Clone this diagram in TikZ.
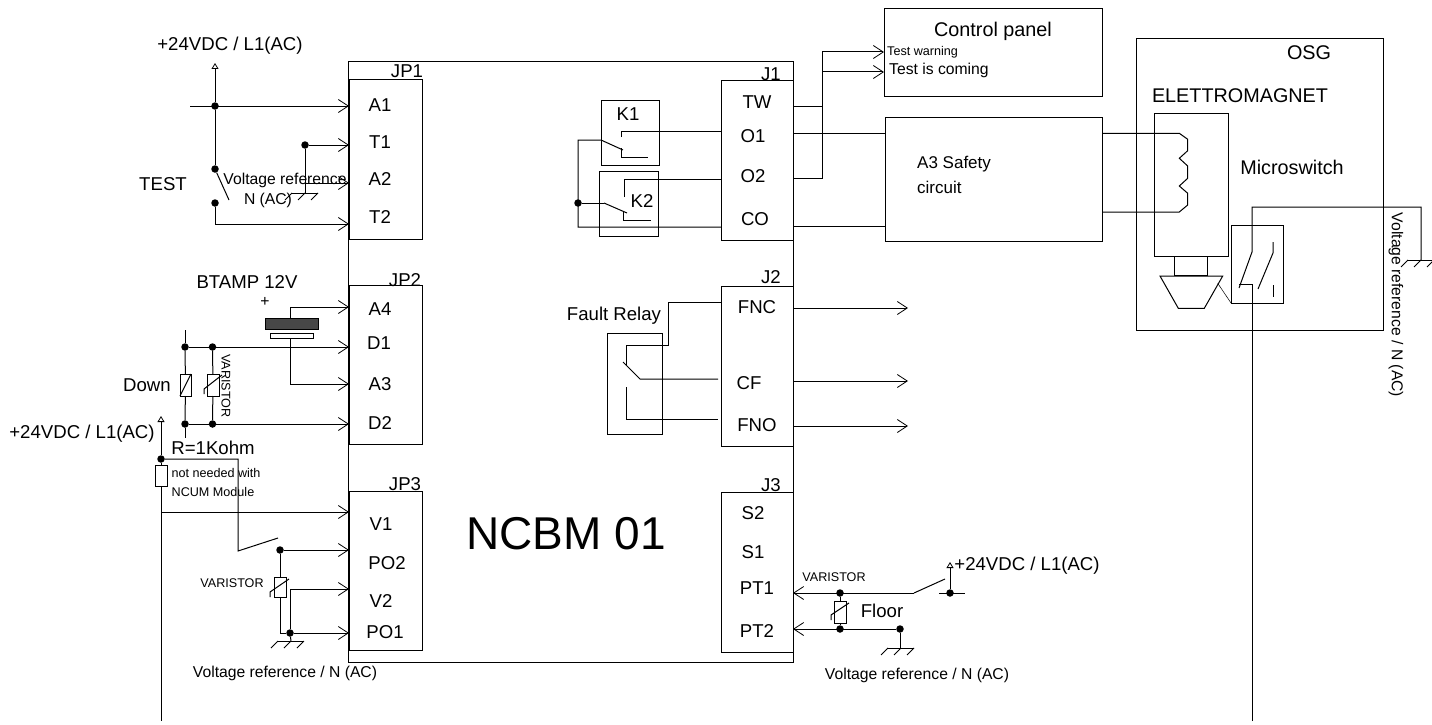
\documentclass[tikz,border=0pt]{standalone}
\usepackage{fontspec}
\setmainfont{Liberation Sans}
\usetikzlibrary{arrows.meta}
\tikzset{
  wire/.style={line width=1pt},
  feed/.style={wire,-{Straight Barb[length=10pt,width=13pt,line width=0.8pt]}},
  supply/.style={wire,-{Triangle[open,length=6pt,width=7pt,line width=0.8pt]}},
  dot/.style={shape=circle,fill=black,inner sep=0pt,minimum size=7.5pt},
  boxed/.style={shape=rectangle,draw=black,line width=1pt,inner sep=0pt,outer sep=0pt},
  txt/.style={inner sep=0pt,font=\fontsize{18.6}{21}\selectfont},
  big/.style={inner sep=0pt,font=\fontsize{19.8}{22}\selectfont},
  mid/.style={inner sep=0pt,font=\fontsize{15.7}{18}\selectfont},
  tiny/.style={inner sep=0pt,font=\fontsize{12.6}{15}\selectfont},
  earth/.pic={
    \draw[wire] (-13,0) -- (13,0);
    \foreach \k in {-13,0,13} \draw[wire] (\k,0) -- ({\k-7},7);
  }
}
\begin{document}
\begin{tikzpicture}[x=1pt,y=-1pt]
  \useasboundingbox (0,0) rectangle (1432,725);

  \node[boxed,minimum width=445pt,minimum height=600pt] (NCBM) at (571,362) {};
  \node[boxed,minimum width=73pt,minimum height=160pt] (JP1) at (385.5,159) {};
  \node[boxed,minimum width=73pt,minimum height=159pt] (JP2) at (385.5,364.5) {};
  \node[boxed,minimum width=73pt,minimum height=159pt] (JP3) at (385.5,570.5) {};
  \node[boxed,minimum width=72pt,minimum height=160pt] (J1) at (757,160) {};
  \node[boxed,minimum width=72pt,minimum height=160pt] (J2) at (757,366) {};
  \node[boxed,minimum width=72pt,minimum height=160pt] (J3) at (757,572) {};
  \node[boxed,minimum width=218pt,minimum height=87pt] (panel) at (993,52.5) {};
  \node[boxed,minimum width=217pt,minimum height=124pt] (A3) at (993.5,179) {};
  \node[boxed,minimum width=247pt,minimum height=291pt] (OSG) at (1259.5,184.5) {};
  \node[boxed,minimum width=74pt,minimum height=143pt] (magnet) at (1191,184.5) {};
  \node[boxed,minimum width=33pt,minimum height=19pt] (plunger) at (1190.5,265.5) {};
  \node[boxed,minimum width=52pt,minimum height=78pt] (micro) at (1257,264) {};
  \node[boxed,minimum width=58pt,minimum height=65pt] (K1) at (630,132.5) {};
  \node[boxed,minimum width=59pt,minimum height=65pt] (K2) at (628.5,203.5) {};
  \node[boxed,minimum width=55pt,minimum height=101pt] (relay) at (634.5,383.5) {};
  \node[boxed,minimum width=53pt,minimum height=11pt,fill=black!72] (bar) at (291.5,323.5) {};
  \node[boxed,minimum width=43pt,minimum height=5pt] (plate) at (291.5,335.5) {};
  \node[boxed,minimum width=11pt,minimum height=22pt] (down) at (185.5,385) {};
  \node[boxed,minimum width=12pt,minimum height=22pt] (var1) at (213,385) {};
  \node[boxed,minimum width=12pt,minimum height=21pt] (res) at (161,475.5) {};
  \node[boxed,minimum width=12pt,minimum height=20pt] (var2) at (280,587) {};
  \node[boxed,minimum width=12pt,minimum height=22pt] (var3) at (840,612) {};

  \node[txt] (tJP1) at (407,71) {JP1};
  \node[txt] (tJP2) at (405,280) {JP2};
  \node[txt] (tJP3) at (405,484) {JP3};
  \node[txt] (tJ1) at (771,74) {J1};
  \node[txt] (tJ2) at (771,277) {J2};
  \node[txt] (tJ3) at (771,485) {J3};
  \node[txt] (pA1) at (380,105) {A1};
  \node[txt] (pT1) at (380,142) {T1};
  \node[txt] (pA2) at (380,179) {A2};
  \node[txt] (pT2) at (380,217) {T2};
  \node[txt] (pA4) at (380,309) {A4};
  \node[txt] (pD1) at (379,343) {D1};
  \node[txt] (pA3) at (380,384) {A3};
  \node[txt] (pD2) at (380,423) {D2};
  \node[txt] (pV1) at (381,524) {V1};
  \node[txt] (pPO2) at (387,563) {PO2};
  \node[txt] (pV2) at (381,601) {V2};
  \node[txt] (pPO1) at (385,632) {PO1};
  \node[txt] (pTW) at (757,102) {TW};
  \node[txt] (pO1) at (753,136) {O1};
  \node[txt] (pO2) at (753,176) {O2};
  \node[txt] (pCO) at (755,219) {CO};
  \node[txt] (pFNC) at (757,307) {FNC};
  \node[txt] (pCF) at (749,383) {CF};
  \node[txt] (pFNO) at (757,425) {FNO};
  \node[txt] (pS2) at (753,513) {S2};
  \node[txt] (pS1) at (753,552) {S1};
  \node[txt] (pPT1) at (757,588) {PT1};
  \node[txt] (pPT2) at (757,631) {PT2};

  \node[txt] (sup1) at (230,46) {+24VDC / L1(AC)};
  \node[txt] (sup2) at (82,434) {+24VDC / L1(AC)};
  \node[txt] (sup3) at (1027,566) {+24VDC / L1(AC)};
  \node[txt] (test) at (163,184) {TEST};
  \node[mid] (ref1) at (285,180) {Voltage reference};
  \node[mid] (ref2) at (268,200) {N (AC)};
  \node[mid] (ref3) at (285,673) {Voltage reference / N (AC)};
  \node[mid] (ref4) at (917,675) {Voltage reference / N (AC)};
  \node[mid,rotate=-90] (ref5) at (1396,305) {Voltage reference / N (AC)};
  \node[txt] (btamp) at (247,282) {BTAMP 12V};
  \node[mid] (plus) at (265,302) {+};
  \node[txt] (tdown) at (147,385) {Down};
  \node[tiny,rotate=-90] (tvar1) at (226,386) {VARISTOR};
  \node[txt] (tres) at (213,448) {R=1Kohm};
  \node[tiny] (note1) at (216,473) {not needed with};
  \node[tiny] (note2) at (213,492) {NCUM Module};
  \node[tiny] (tvar2) at (232,583) {VARISTOR};
  \node[tiny] (tvar3) at (834,577) {VARISTOR};
  \node[txt] (floor) at (882,611) {Floor};
  \node[inner sep=0pt,font=\fontsize{46}{50}\selectfont] (title) at (566,534) {NCBM 01};
  \node[txt] (tK1) at (628,114) {K1};
  \node[txt] (tK2) at (642,201) {K2};
  \node[txt] (tfault) at (614,316) {Fault Relay};
  \node[big] (tpanel) at (993,31) {Control panel};
  \node[tiny,anchor=west] (warn) at (887,52) {Test warning};
  \node[mid,anchor=west] (coming) at (889,70) {Test is coming};
  \node[inner sep=0pt,font=\fontsize{17}{20}\selectfont,anchor=west] (safe1) at (917,164) {A3 Safety};
  \node[inner sep=0pt,font=\fontsize{17}{20}\selectfont,anchor=west] (safe2) at (917,187) {circuit};
  \node[big] (tOSG) at (1309,53) {OSG};
  \node[big] (telet) at (1240,96) {ELETTROMAGNET};
  \node[big] (tmicro) at (1292,167) {Microswitch};

  % JP1 side
  \node[dot] (a) at (215,106) {};
  \node[dot] (b) at (215,169) {};
  \node[dot] (c) at (215,203) {};
  \node[dot] (d) at (305,145) {};
  \coordinate (atop) at (215,63);
  \coordinate (ain) at (190,106);
  \coordinate (bsw) at (229,200);
  \coordinate (gnd1) at (305,193);
  \coordinate (a2) at (305,183);
  \coordinate (t2) at (215,224);
  \path[supply] (a) edge (atop);
  \path[feed] (ain) edge (a -| JP1.west);
  \path[wire] (a) edge (b);
  \path[wire] (b) edge (bsw);
  \path[feed] (d) edge (d -| JP1.west);
  \path[wire] (d) edge (gnd1);
  \path[feed] (a2) edge (a2 -| JP1.west);
  \draw[feed] (c) -- (t2) -- (t2 -| JP1.west);
  \pic at (gnd1) {earth};

  % JP2 side
  \node[dot] (e) at (185,347) {};
  \node[dot] (f) at (212.5,347) {};
  \node[dot] (g) at (185,424) {};
  \node[dot] (h) at (212.5,424) {};
  \coordinate (etop) at (185,330);
  \coordinate (gbot) at (185,438);
  \coordinate (a4) at (290,307);
  \coordinate (a3) at (290,384);
  \path[wire] (etop) edge (e);
  \path[wire] (e) edge (down);
  \path[wire] (down) edge (g);
  \path[wire] (g) edge (gbot);
  \path[wire] (f) edge (var1);
  \path[wire] (var1) edge (h);
  \path[wire] (down.south west) edge (down.north east);
  \draw[wire] (204,394) -- (204,389) -- (222,375);
  \path[feed] (e) edge (e -| JP2.west);
  \path[feed] (g) edge (g -| JP2.west);
  \draw[feed] (bar.north -| a4) -- (a4) -- (a4 -| JP2.west);
  \draw[feed] (plate.south -| a3) -- (a3) -- (a3 -| JP2.west);

  % JP3 side
  \node[dot] (i) at (161,459) {};
  \node[dot] (j) at (280,550) {};
  \node[dot] (k) at (290,633) {};
  \coordinate (itop) at (161,416);
  \coordinate (ibot) at (161,721);
  \coordinate (v1) at (161,512);
  \coordinate (po) at (238,459);
  \coordinate (pob) at (238,551);
  \coordinate (posw) at (278,538);
  \coordinate (jb) at (280,633);
  \coordinate (v2) at (290,589);
  \coordinate (gnd3) at (291,641);
  \path[supply] (i) edge (itop);
  \path[wire] (i) edge (res);
  \path[wire] (res) edge (ibot);
  \path[feed] (v1) edge (v1 -| JP3.west);
  \draw[wire] (i) -- (po) -- (pob) -- (posw);
  \path[feed] (j) edge (j -| JP3.west);
  \path[wire] (j) edge (var2);
  \draw[wire] (var2) -- (jb) -- (k);
  \draw[wire] (270,597) -- (270,592) -- (289,579);
  \draw[feed] (k) -- (v2) -- (v2 -| JP3.west);
  \path[feed] (k) edge (k -| JP3.west);
  \path[wire] (k) edge (gnd3);
  \pic at (gnd3) {earth};

  % K1 K2
  \node[dot] (m) at (578,203) {};
  \coordinate (m1) at (578,140);
  \coordinate (m2) at (578,227);
  \coordinate (k1a) at (601,140);
  \coordinate (k1b) at (623,150);
  \coordinate (k2a) at (604,203);
  \coordinate (k2b) at (627,213);
  \coordinate (o1) at (621,131.5);
  \coordinate (o2) at (624,179);
  \path[wire] (m) edge (k2a);
  \path[wire] (k2a) edge (k2b);
  \draw[wire] (k1b) -- (k1a) -- (m1) -- (m2) -- (m2 -| J1.west);
  \draw[wire] (621,137) -- (o1) -- (o1 -| J1.west);
  \draw[wire] (621,148) -- (621,157) -- (648,157);
  \draw[wire] (624,197) -- (o2) -- (o2 -| J1.west);
  \draw[wire] (623,212) -- (623,220) -- (651,220);

  % J1 right
  \coordinate (n1) at (822,52);
  \coordinate (n2) at (822,72);
  \coordinate (n3) at (822,106.5);
  \coordinate (n4) at (822,178);
  \coordinate (q1) at (885,133.5);
  \coordinate (q2) at (885,226);
  \draw[wire] (n1) -- (n4) -- (n4 -| J1.east);
  \path[wire] (n3 -| J1.east) edge (n3);
  \path[feed] (n1) edge (n1 -| panel.west);
  \path[feed] (n2) edge (n2 -| panel.west);
  \path[wire] (q1 -| J1.east) edge (q1);
  \path[wire] (q2 -| J1.east) edge (q2);

  % fault relay
  \coordinate (r1) at (668,302);
  \coordinate (r2) at (668,345);
  \coordinate (r3) at (626,345);
  \coordinate (r4) at (640,379);
  \coordinate (r5) at (626,387);
  \coordinate (r6) at (626,419);
  \draw[wire] (r1 -| J2.west) -- (r1) -- (r2) -- (r3) -- (626,365);
  \draw[wire] (623,362) -- (r4) -- (718,379);
  \draw[wire] (r5) -- (r6) -- (718,419);
  \coordinate (s1) at (908,308);
  \coordinate (s2) at (908,381);
  \coordinate (s3) at (908,426);
  \path[feed] (s1 -| J2.east) edge (s1);
  \path[feed] (s2 -| J2.east) edge (s2);
  \path[feed] (s3 -| J2.east) edge (s3);

  % J3
  \node[dot] (u) at (840,593) {};
  \node[dot] (v) at (840,629) {};
  \node[dot] (w) at (900,629) {};
  \node[dot] (x) at (950,593) {};
  \coordinate (usw) at (914,593);
  \coordinate (usw2) at (945,579);
  \coordinate (xtop) at (950,562);
  \coordinate (xl) at (939,593);
  \coordinate (xr) at (965,593);
  \coordinate (gnd4) at (901,648);
  \path[feed] (usw) edge (usw -| J3.east);
  \path[wire] (usw) edge (usw2);
  \path[feed] (w) edge (v -| J3.east);
  \path[wire] (u) edge (var3);
  \path[wire] (var3) edge (v);
  \draw[wire] (831,620) -- (831,615) -- (849,603);
  \path[wire] (w) edge (gnd4 -| w);
  \pic at (gnd4) {earth};
  \path[supply] (x) edge (xtop);
  \path[wire] (xl) edge (xr);

  % OSG
  \draw[wire] (A3.east |- q1) -- (1179.3,133.3) -- (1187.7,139.3) -- (1187.7,150.7) -- (1179.3,158.3) -- (1187.7,166) -- (1187.7,178.3) -- (1179.3,186) -- (1187.7,193.3) -- (1187.7,205) -- (1179.3,212) -- (A3.east |- 0,212);
  \draw[wire] (1160,276) -- (1222.7,276) -- (1204.3,308.3) -- (1178.3,308.3) -- cycle;
  \path[wire,double,line width=0.5pt] (1217.7,283.3) edge (micro.south west);
  \coordinate (y0) at (1252,721);
  \coordinate (y1) at (1252,284);
  \coordinate (y2) at (1239,284);
  \coordinate (y3) at (1239,288);
  \coordinate (y4) at (1252,252);
  \coordinate (y5) at (1252,207);
  \coordinate (y6) at (1421,207);
  \coordinate (gnd5) at (1421,260);
  \draw[wire] (y0) -- (y1) -- (y2);
  \draw[wire] (y3) -- (y4) -- (y5) -- (y6) -- (gnd5);
  \pic at (gnd5) {earth};
  \draw[wire] (1258,289) -- (1273,253) -- (1273,242);
  \draw[wire] (1273,285) -- (1273,297);
\end{tikzpicture}
\end{document}
